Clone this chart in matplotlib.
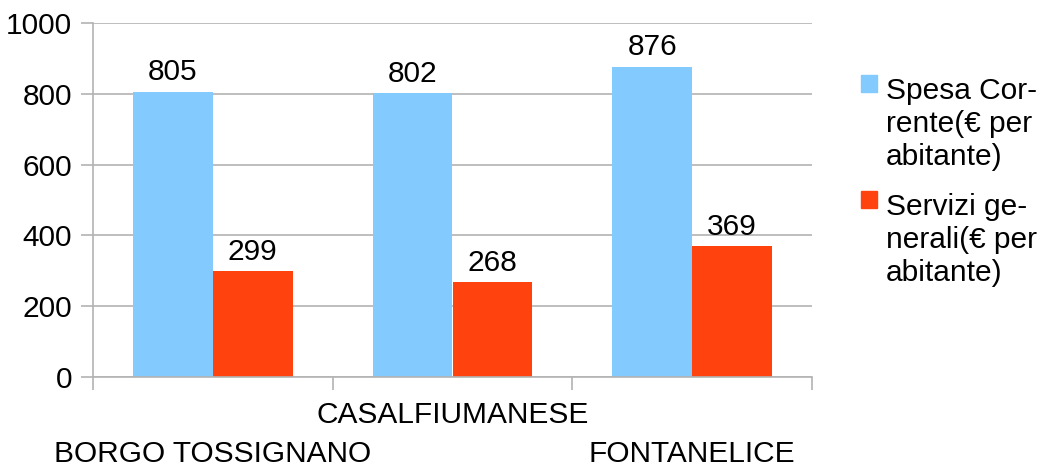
import matplotlib
matplotlib.use("Agg")
import matplotlib.pyplot as plt
from matplotlib.patches import Rectangle
import numpy as np

plt.rcParams['font.family'] = ['Liberation Sans', 'DejaVu Sans']

categories = ["BORGO TOSSIGNANO", "CASALFIUMANESE", "FONTANELICE"]
spesa_corrente = [805, 802, 876]
servizi_generali = [299, 268, 369]
series_labels = ["Spesa Cor-\nrente(€ per\nabitante)", "Servizi ge-\nnerali(€ per\nabitante)"]
colors = ["#83CAFF", "#FF420E"]
yticks = [0, 200, 400, 600, 800, 1000]

fs = 21.5
fig = plt.figure(figsize=(10.4, 4.68), dpi=100)
ax = fig.add_axes([93/1040, 1-377/468, (812-93)/1040, (377-23)/468])

x = np.arange(len(categories))
w = 1/3
b1 = ax.bar(x - w/2, spesa_corrente, width=w, color=colors[0], zorder=2)
b2 = ax.bar(x + w/2, servizi_generali, width=w, color=colors[1], zorder=2)
ax.bar_label(b1, fontsize=fs, padding=4)
ax.bar_label(b2, fontsize=fs, padding=4)

ax.set_xlim(-0.5, len(categories) - 0.5)
ax.set_ylim(0, 1000)
ax.set_yticks(yticks)
ax.yaxis.grid(True, color="#b3b3b3", linewidth=1.2, zorder=0)
ax.tick_params(axis='y', length=9, color="#b3b3b3", width=1.2, labelsize=fs, pad=6)

ax.set_xticks(x)
ax.set_xticklabels(categories, fontsize=fs)
ax.set_xticks(np.arange(len(categories) + 1) - 0.5, minor=True)
ax.tick_params(axis='x', which='major', length=0)
ax.tick_params(axis='x', which='minor', length=9, color="#b3b3b3", width=1.2)
for i, t in enumerate(ax.xaxis.get_major_ticks()):
    t.set_pad(45 if i % 2 == 0 else 17)

for s in ['top', 'right']:
    ax.spines[s].set_visible(False)
for s in ['left', 'bottom']:
    ax.spines[s].set_color("#b3b3b3")
    ax.spines[s].set_linewidth(1.2)

# legend
for i, (lab, c) in enumerate(zip(series_labels, colors)):
    ytop = 1 - [75, 191][i] / 468
    fig.patches.append(Rectangle((861/1040, ytop - 17/468), 16/1040, 17/468,
                                 transform=fig.transFigure, color=c))
    fig.text(886/1040, ytop - 2/468, lab, fontsize=fs, va='top', ha='left',
             linespacing=1.22)

fig.savefig("out.png", dpi=100)
